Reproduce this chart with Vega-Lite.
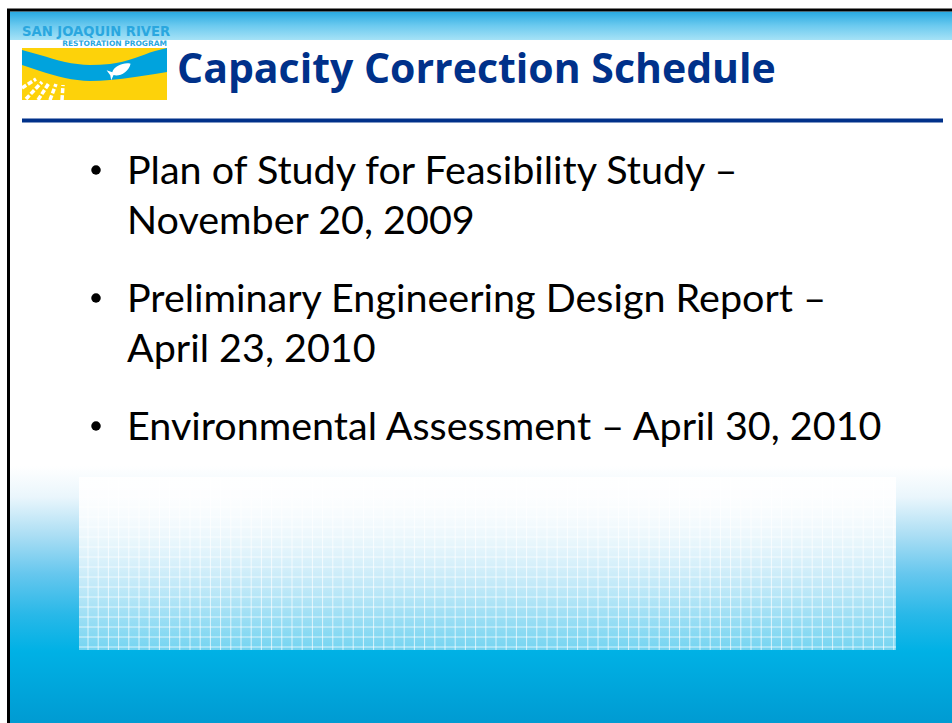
{
  "$schema": "https://vega.github.io/schema/vega-lite/v6.json",
  "width": 952,
  "height": 723,
  "padding": 0,
  "autosize": {"type": "fit", "contains": "padding"},
  "background": "#ffffff",
  "config": {"view": {"stroke": null}},
  "datasets": {
    "border": [
      {"x": 7, "x2": 10, "y": 9, "y2": 723},
      {"x": 7, "x2": 952, "y": 8.5, "y2": 11.5}
    ],
    "topband": [{"x": 10, "x2": 952, "y": 11.5, "y2": 40}],
    "bottombg": [{"x": 10, "x2": 952, "y": 466, "y2": 723}],
    "panel": [{"x": 79, "x2": 896, "y": 477, "y2": 650}],
    "gridv": [
      {"x": 88}, {"x": 98.2}, {"x": 108.4}, {"x": 118.6}, {"x": 128.8}, {"x": 139}, {"x": 149.2}, {"x": 159.4}, {"x": 169.6}, {"x": 179.8},
      {"x": 190}, {"x": 200.2}, {"x": 210.4}, {"x": 220.6}, {"x": 230.8}, {"x": 241}, {"x": 251.2}, {"x": 261.4}, {"x": 271.6}, {"x": 281.8},
      {"x": 292}, {"x": 302.2}, {"x": 312.4}, {"x": 322.6}, {"x": 332.8}, {"x": 343}, {"x": 353.2}, {"x": 363.4}, {"x": 373.6}, {"x": 383.8},
      {"x": 394}, {"x": 404.2}, {"x": 414.4}, {"x": 424.6}, {"x": 434.8}, {"x": 445}, {"x": 455.2}, {"x": 465.4}, {"x": 475.6}, {"x": 485.8},
      {"x": 496}, {"x": 506.2}, {"x": 516.4}, {"x": 526.6}, {"x": 536.8}, {"x": 547}, {"x": 557.2}, {"x": 567.4}, {"x": 577.6}, {"x": 587.8},
      {"x": 598}, {"x": 608.2}, {"x": 618.4}, {"x": 628.6}, {"x": 638.8}, {"x": 649}, {"x": 659.2}, {"x": 669.4}, {"x": 679.6}, {"x": 689.8},
      {"x": 700}, {"x": 710.2}, {"x": 720.4}, {"x": 730.6}, {"x": 740.8}, {"x": 751}, {"x": 761.2}, {"x": 771.4}, {"x": 781.6}, {"x": 791.8},
      {"x": 802}, {"x": 812.2}, {"x": 822.4}, {"x": 832.6}, {"x": 842.8}, {"x": 853}, {"x": 863.2}, {"x": 873.4}, {"x": 883.6}, {"x": 893.8}
    ],
    "gridh": [
      {"y": 487}, {"y": 497}, {"y": 507}, {"y": 517}, {"y": 527}, {"y": 537}, {"y": 547}, {"y": 557}, {"y": 567},
      {"y": 577}, {"y": 587}, {"y": 597}, {"y": 607}, {"y": 617}, {"y": 627}, {"y": 637}, {"y": 647}
    ],
    "logobox": [{"x": 22, "x2": 167, "y": 48, "y2": 100}],
    "band": [
      {"x": 22, "y": 50, "y2": 65},
      {"x": 40, "y": 55, "y2": 71},
      {"x": 65, "y": 62, "y2": 78},
      {"x": 90, "y": 65, "y2": 81},
      {"x": 110, "y": 64, "y2": 80},
      {"x": 135, "y": 58, "y2": 77},
      {"x": 155, "y": 51, "y2": 74},
      {"x": 167, "y": 48, "y2": 72}
    ],
    "stripes": [
      {"x": 22, "y": 88, "x2": 36, "y2": 79},
      {"x": 26, "y": 99, "x2": 42, "y2": 82},
      {"x": 38, "y": 100, "x2": 49, "y2": 83},
      {"x": 50, "y": 100, "x2": 56, "y2": 84},
      {"x": 62, "y": 100, "x2": 63, "y2": 85}
    ],
    "fish": [{"x": 120, "y": 70}],
    "logotext": [
      {"x": 22, "y": 36, "t": "SAN JOAQUIN RIVER"}
    ],
    "logosub": [
      {"x": 167, "y": 46, "t": "RESTORATION PROGRAM"}
    ],
    "title": [{"x": 177, "y": 83, "t": "Capacity Correction Schedule"}],
    "hrule": [{"x": 22, "x2": 943, "y": 120.5}],
    "bullets": [{"x": 96, "y": 170}, {"x": 96, "y": 298}, {"x": 96, "y": 426}],
    "body": [
      {"x": 127, "y": 184, "t": "Plan of Study for Feasibility Study –"},
      {"x": 127, "y": 234, "t": "November 20, 2009"},
      {"x": 127, "y": 312, "t": "Preliminary Engineering Design Report –"},
      {"x": 127, "y": 362, "t": "April 23, 2010"},
      {"x": 127, "y": 440, "t": "Environmental Assessment – April 30, 2010"}
    ]
  },
  "layer": [
    {
      "data": {"name": "bottombg"},
      "mark": {"type": "rect", "fill": {"gradient": "linear", "x1": 0, "y1": 0, "x2": 0, "y2": 1, "stops": [
        {"offset": 0, "color": "#ffffff"},
        {"offset": 0.12, "color": "#eaf6fc"},
        {"offset": 0.27, "color": "#abdef4"},
        {"offset": 0.42, "color": "#66c7ee"},
        {"offset": 0.58, "color": "#28b8e8"},
        {"offset": 0.72, "color": "#00b1e5"},
        {"offset": 1, "color": "#009bd2"}
      ]}},
      "encoding": {
        "x": {"field": "x", "type": "quantitative", "scale": {"domain": [0, 952], "nice": false, "zero": false}, "axis": null},
        "x2": {"field": "x2"},
        "y": {"field": "y", "type": "quantitative", "scale": {"domain": [0, 723], "reverse": true, "nice": false, "zero": false}, "axis": null},
        "y2": {"field": "y2"}
      }
    },
    {
      "data": {"name": "panel"},
      "mark": {"type": "rect", "fill": {"gradient": "linear", "x1": 0, "y1": 0, "x2": 0, "y2": 1, "stops": [
        {"offset": 0, "color": "rgba(255,255,255,0.95)"},
        {"offset": 1, "color": "rgba(255,255,255,0.45)"}
      ]}},
      "encoding": {
        "x": {"field": "x", "type": "quantitative", "scale": {"domain": [0, 952], "nice": false, "zero": false}, "axis": null},
        "x2": {"field": "x2"},
        "y": {"field": "y", "type": "quantitative", "scale": {"domain": [0, 723], "reverse": true, "nice": false, "zero": false}, "axis": null},
        "y2": {"field": "y2"}
      }
    },
    {
      "data": {"name": "gridv"},
      "mark": {"type": "rule", "stroke": "#ffffff", "strokeWidth": 1, "strokeOpacity": 0.7},
      "encoding": {
        "x": {"field": "x", "type": "quantitative", "scale": {"domain": [0, 952], "nice": false, "zero": false}, "axis": null},
        "y": {"datum": 477, "type": "quantitative", "scale": {"domain": [0, 723], "reverse": true, "nice": false, "zero": false}, "axis": null},
        "y2": {"datum": 650}
      }
    },
    {
      "data": {"name": "gridh"},
      "mark": {"type": "rule", "stroke": "#ffffff", "strokeWidth": 1, "strokeOpacity": 0.7},
      "encoding": {
        "x": {"datum": 79, "type": "quantitative", "scale": {"domain": [0, 952], "nice": false, "zero": false}, "axis": null},
        "x2": {"datum": 896},
        "y": {"field": "y", "type": "quantitative", "scale": {"domain": [0, 723], "reverse": true, "nice": false, "zero": false}, "axis": null}
      }
    },
    {
      "data": {"name": "topband"},
      "mark": {"type": "rect", "fill": {"gradient": "linear", "x1": 0, "y1": 0, "x2": 0, "y2": 1, "stops": [
        {"offset": 0, "color": "#27a9e1"},
        {"offset": 0.5, "color": "#6ccaef"},
        {"offset": 1, "color": "#a6e2f6"}
      ]}},
      "encoding": {
        "x": {"field": "x", "type": "quantitative", "scale": {"domain": [0, 952], "nice": false, "zero": false}, "axis": null},
        "x2": {"field": "x2"},
        "y": {"field": "y", "type": "quantitative", "scale": {"domain": [0, 723], "reverse": true, "nice": false, "zero": false}, "axis": null},
        "y2": {"field": "y2"}
      }
    },
    {
      "data": {"name": "border"},
      "mark": {"type": "rect", "fill": "#000000"},
      "encoding": {
        "x": {"field": "x", "type": "quantitative", "scale": {"domain": [0, 952], "nice": false, "zero": false}, "axis": null},
        "x2": {"field": "x2"},
        "y": {"field": "y", "type": "quantitative", "scale": {"domain": [0, 723], "reverse": true, "nice": false, "zero": false}, "axis": null},
        "y2": {"field": "y2"}
      }
    },
    {
      "data": {"name": "logobox"},
      "mark": {"type": "rect", "fill": "#fdd20a"},
      "encoding": {
        "x": {"field": "x", "type": "quantitative", "scale": {"domain": [0, 952], "nice": false, "zero": false}, "axis": null},
        "x2": {"field": "x2"},
        "y": {"field": "y", "type": "quantitative", "scale": {"domain": [0, 723], "reverse": true, "nice": false, "zero": false}, "axis": null},
        "y2": {"field": "y2"}
      }
    },
    {
      "data": {"name": "band"},
      "mark": {"type": "area", "orient": "vertical", "interpolate": "monotone", "fill": "#00a3dd"},
      "encoding": {
        "x": {"field": "x", "type": "quantitative", "scale": {"domain": [0, 952], "nice": false, "zero": false}, "axis": null},
        "y": {"field": "y", "type": "quantitative", "scale": {"domain": [0, 723], "reverse": true, "nice": false, "zero": false}, "axis": null},
        "y2": {"field": "y2"}
      }
    },
    {
      "data": {"name": "stripes"},
      "mark": {"type": "rule", "stroke": "#ffffff", "strokeWidth": 3.5, "strokeDash": [5, 2]},
      "encoding": {
        "x": {"field": "x", "type": "quantitative", "scale": {"domain": [0, 952], "nice": false, "zero": false}, "axis": null},
        "x2": {"field": "x2"},
        "y": {"field": "y", "type": "quantitative", "scale": {"domain": [0, 723], "reverse": true, "nice": false, "zero": false}, "axis": null},
        "y2": {"field": "y2"}
      }
    },
    {
      "data": {"name": "fish"},
      "mark": {"type": "point", "filled": true, "fill": "#ffffff", "opacity": 1, "size": 600, "angle": -25, "shape": "M1,-0.1 C0.6,-0.45 -0.3,-0.5 -0.65,-0.1 L-1,-0.45 L-0.9,0.05 L-1,0.45 L-0.65,0.15 C-0.3,0.5 0.6,0.45 1,-0.1 Z"},
      "encoding": {
        "x": {"field": "x", "type": "quantitative", "scale": {"domain": [0, 952], "nice": false, "zero": false}, "axis": null},
        "y": {"field": "y", "type": "quantitative", "scale": {"domain": [0, 723], "reverse": true, "nice": false, "zero": false}, "axis": null}
      }
    },
    {
      "data": {"name": "logotext"},
      "mark": {"type": "text", "align": "left", "baseline": "alphabetic", "font": "DejaVu Sans", "fontWeight": "bold", "fontSize": 13.2, "fill": "#2aa7df"},
      "encoding": {
        "x": {"field": "x", "type": "quantitative", "scale": {"domain": [0, 952], "nice": false, "zero": false}, "axis": null},
        "y": {"field": "y", "type": "quantitative", "scale": {"domain": [0, 723], "reverse": true, "nice": false, "zero": false}, "axis": null},
        "text": {"field": "t"}
      }
    },
    {
      "data": {"name": "logosub"},
      "mark": {"type": "text", "align": "right", "baseline": "alphabetic", "font": "DejaVu Sans", "fontWeight": "bold", "fontSize": 7.5, "fill": "#2aa7df"},
      "encoding": {
        "x": {"field": "x", "type": "quantitative", "scale": {"domain": [0, 952], "nice": false, "zero": false}, "axis": null},
        "y": {"field": "y", "type": "quantitative", "scale": {"domain": [0, 723], "reverse": true, "nice": false, "zero": false}, "axis": null},
        "text": {"field": "t"}
      }
    },
    {
      "data": {"name": "title"},
      "mark": {"type": "text", "align": "left", "baseline": "alphabetic", "font": "Open Sans", "fontWeight": "bold", "fontSize": 41, "fill": "#00318a"},
      "encoding": {
        "x": {"field": "x", "type": "quantitative", "scale": {"domain": [0, 952], "nice": false, "zero": false}, "axis": null},
        "y": {"field": "y", "type": "quantitative", "scale": {"domain": [0, 723], "reverse": true, "nice": false, "zero": false}, "axis": null},
        "text": {"field": "t"}
      }
    },
    {
      "data": {"name": "hrule"},
      "mark": {"type": "rule", "stroke": "#00318a", "strokeWidth": 4},
      "encoding": {
        "x": {"field": "x", "type": "quantitative", "scale": {"domain": [0, 952], "nice": false, "zero": false}, "axis": null},
        "x2": {"field": "x2"},
        "y": {"field": "y", "type": "quantitative", "scale": {"domain": [0, 723], "reverse": true, "nice": false, "zero": false}, "axis": null}
      }
    },
    {
      "data": {"name": "bullets"},
      "mark": {"type": "point", "shape": "circle", "filled": true, "fill": "#000000", "opacity": 1, "size": 90},
      "encoding": {
        "x": {"field": "x", "type": "quantitative", "scale": {"domain": [0, 952], "nice": false, "zero": false}, "axis": null},
        "y": {"field": "y", "type": "quantitative", "scale": {"domain": [0, 723], "reverse": true, "nice": false, "zero": false}, "axis": null}
      }
    },
    {
      "data": {"name": "body"},
      "mark": {"type": "text", "align": "left", "baseline": "alphabetic", "font": "Lato", "fontSize": 39.5, "fill": "#000000"},
      "encoding": {
        "x": {"field": "x", "type": "quantitative", "scale": {"domain": [0, 952], "nice": false, "zero": false}, "axis": null},
        "y": {"field": "y", "type": "quantitative", "scale": {"domain": [0, 723], "reverse": true, "nice": false, "zero": false}, "axis": null},
        "text": {"field": "t"}
      }
    }
  ]
}
